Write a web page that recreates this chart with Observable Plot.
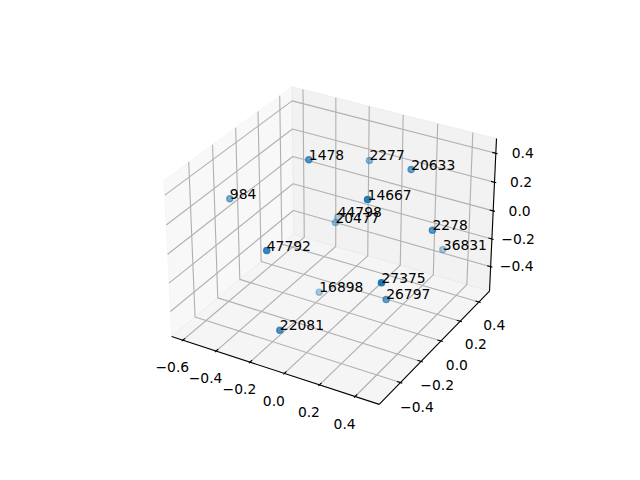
<!DOCTYPE html><html><head><meta charset="utf-8">
<script src="https://cdn.jsdelivr.net/npm/d3@7"></script>
<script src="https://cdn.jsdelivr.net/npm/@observablehq/plot@0.6"></script>
<style>html,body{margin:0;background:#fff}svg{display:block}</style></head><body><div id="c"></div><script>
const xLim=[-0.668,0.533],yLim=[-0.6,0.516],zLim=[-0.58,0.5];
const xTicks=[-0.6,-0.4,-0.2,0,0.2,0.4],yTicks=[-0.4,-0.2,0,0.2,0.4],zTicks=[-0.4,-0.2,0,0.2,0.4];
const ids=[1478,984,2277,20633,14667,44798,20477,2278,36831,47792,16898,22081,27375,26797];
const xs=[-0.233,-0.590,-0.064,0.202,0.144,-0.189,-0.153,0.391,0.344,-0.246,-0.153,-0.127,0.322,0.257];
const ys=[-0.005,-0.178,0.294,0.250,-0.071,0.194,0.114,0.140,0.343,-0.368,-0.041,-0.443,-0.232,-0.072];
const zs=[0.420,0.142,0.293,0.341,0.313,-0.086,-0.061,0.054,-0.229,0.022,-0.458,-0.439,-0.087,-0.337];
const K=1.8294640721620434*25/24,N=Math.hypot(4,4,3),box=[4*K/N,4*K/N,3*K/N],el=30*Math.PI/180,az=-60*Math.PI/180,dist=10;
const wd=[Math.cos(el)*Math.cos(az),Math.cos(el)*Math.sin(az),Math.sin(el)];
const E=box.map((b,i)=>b/2+dist*wd[i]);
const cross=(a,b)=>[a[1]*b[2]-a[2]*b[1],a[2]*b[0]-a[0]*b[2],a[0]*b[1]-a[1]*b[0]];
const nrm=a=>{const n=Math.hypot(...a);return a.map(v=>v/n)};const dot=(a,b)=>a[0]*b[0]+a[1]*b[1]+a[2]*b[2];
const u=nrm(cross([0,0,1],wd)),v=cross(wd,u),lims=[xLim,yLim,zLim];
function proj(p,extra={}){const q=p.map((c,i)=>(c-lims[i][0])/(lims[i][1]-lims[i][0])*box[i]-E[i]);const d=-dot(q,wd);return {px:dot(q,u)/d,py:dot(q,v)/d,depth:d,...extra}}
const [x0,x1]=xLim,[y0,y1]=yLim,[z0,z1]=zLim,dx=x1-x0,dy=y1-y0,dz=z1-z0;
const poly=pts=>pts.map(p=>proj(p));
const paneLeft=poly([[x0,y0,z0],[x0,y1,z0],[x0,y1,z1],[x0,y0,z1],[x0,y0,z0]]);
const paneBack=poly([[x0,y1,z0],[x1,y1,z0],[x1,y1,z1],[x0,y1,z1],[x0,y1,z0]]);
const paneFloor=poly([[x0,y0,z0],[x1,y0,z0],[x1,y1,z0],[x0,y1,z0],[x0,y0,z0]]);
const grid=[];
const path=(k,pts)=>pts.forEach(p=>grid.push(proj(p,{k})));
xTicks.forEach(t=>path("x"+t,[[t,y0,z0],[t,y1,z0],[t,y1,z1]]));
yTicks.forEach(t=>path("y"+t,[[x1,t,z0],[x0,t,z0],[x0,t,z1]]));
zTicks.forEach(t=>path("z"+t,[[x0,y0,t],[x0,y1,t],[x1,y1,t]]));
const axes=[];const ap=(k,pts)=>pts.forEach(p=>axes.push(proj(p,{k})));
ap("ax",[[x0,y0,z0],[x1,y0,z0]]);ap("ay",[[x1,y0,z0],[x1,y1,z0]]);ap("az",[[x1,y1,z0],[x1,y1,z1]]);
const o=1/12*0.1,i=1/12*0.2;
xTicks.forEach(t=>ap("tx"+t,[[t,y0-o*dy,z0],[t,y0+i*dy,z0]]));
yTicks.forEach(t=>ap("ty"+t,[[x1-i*dx,t,z0],[x1+o*dx,t,z0]]));
zTicks.forEach(t=>ap("tz"+t,[[x1-i*dx,y1,t],[x1+o*dx,y1,t]]));
const fmt=d3.format(".1f");
const labels=[
 ...xTicks.map(t=>proj([t,y0-0.085*dy,z0-0.117*dz],{s:fmt(t)})),
 ...yTicks.map(t=>proj([x1+0.078*dx,t,z0-0.127*dz],{s:fmt(t)})),
 ...zTicks.map(t=>proj([x1+0.099*dx,y1+0.054*dy,t],{s:fmt(t)}))];
const pts=ids.map((id,n)=>proj([xs[n],ys[n],zs[n]],{id:String(id)}));
const dMin=d3.min(pts,p=>p.depth),dMax=d3.max(pts,p=>p.depth);
pts.forEach(p=>p.a=1-0.7*(p.depth-dMin)/(dMax-dMin));
pts.sort((a,b)=>b.depth-a.depth);
const ln={x:"px",y:"py"};
const chart=Plot.plot({width:640,height:480,marginTop:0,marginBottom:0,marginLeft:0,marginRight:0,
 x:{domain:[-0.095,0.09],range:[143.2,512.8],axis:null},
 y:{domain:[-0.095,0.09],range:[427.2,57.6],axis:null},
 style:{background:"#fff",fontFamily:"'DejaVu Sans'",fontSize:"13.89px",color:"#000"},
 marks:[
  Plot.line(paneLeft,{...ln,fill:"#f2f2f2",fillOpacity:.5,stroke:"#f2f2f2",strokeOpacity:.5,strokeWidth:1}),
  Plot.line(paneBack,{...ln,fill:"#e6e6e6",fillOpacity:.5,stroke:"#e6e6e6",strokeOpacity:.5,strokeWidth:1}),
  Plot.line(paneFloor,{...ln,fill:"#ececec",fillOpacity:.5,stroke:"#ececec",strokeOpacity:.5,strokeWidth:1}),
  Plot.line(grid,{...ln,z:"k",stroke:"#b0b0b0",strokeWidth:1.11,strokeLinejoin:"miter",strokeLinecap:"butt"}),
  Plot.line(axes,{...ln,z:"k",stroke:"#000",strokeWidth:1.11,strokeLinecap:"butt"}),
  Plot.text(labels,{...ln,text:"s",textAnchor:"middle",lineAnchor:"middle",fill:"#000",fontSize:13.89}),
  Plot.dot(pts,{...ln,r:3.1,fill:"#1f77b4",stroke:"#1f77b4",strokeWidth:1.39,fillOpacity:"a",strokeOpacity:"a"}),
  Plot.text(pts,{...ln,text:"id",textAnchor:"start",lineAnchor:"bottom",fill:"#000",fontSize:13.89})
 ]});
document.getElementById("c").append(chart);
</script></body></html>
